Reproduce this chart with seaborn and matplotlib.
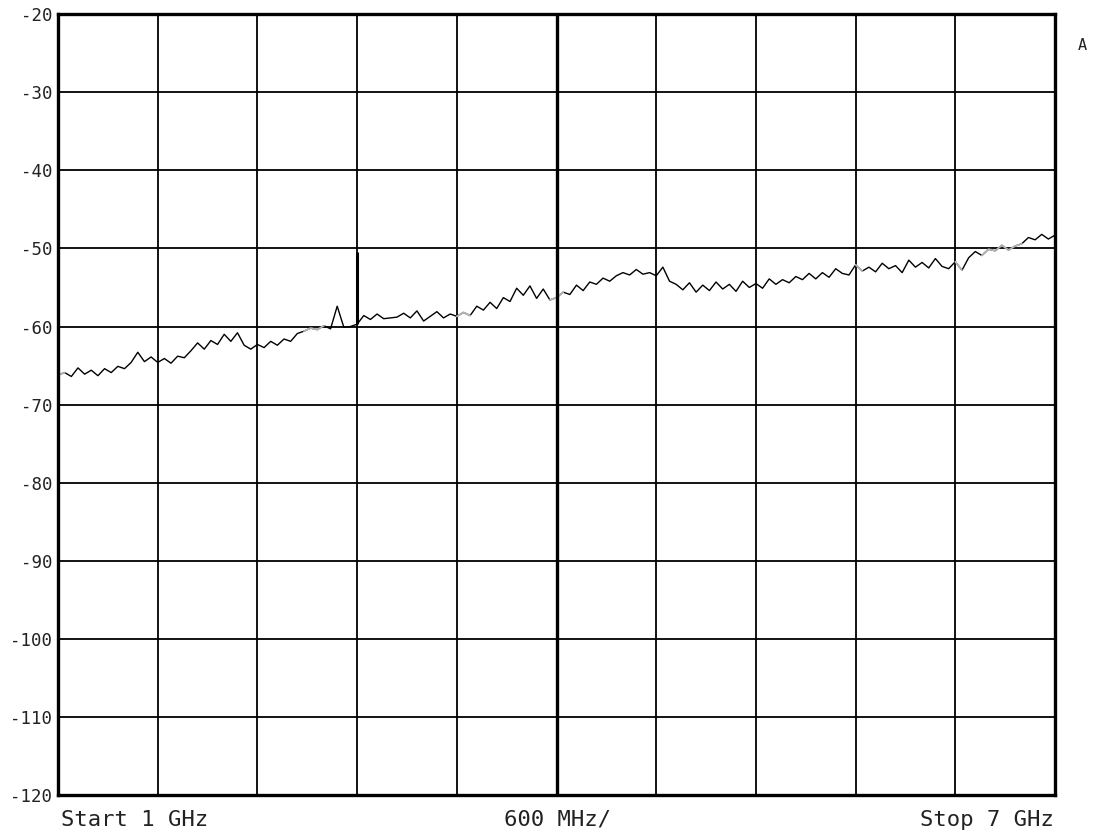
import numpy as np
import pandas as pd
import matplotlib
matplotlib.use("Agg")
import matplotlib.pyplot as plt
import seaborn as sns

sns.set_style("white")
plt.rcParams["font.family"] = ["DejaVu Sans Mono", "DejaVu Sans"]
plt.rcParams["axes.unicode_minus"] = False

# sweep 1 GHz .. 7 GHz, 151 points (40 MHz apart), level in dBm
freq_ghz = np.linspace(1.0, 7.0, 151)
level_db = [
    -66.2, -65.9, -66.4, -65.3, -66.1, -65.6, -66.3, -65.4, -65.9, -65.1,
    -65.4, -64.6, -63.3, -64.5, -63.9, -64.6, -64.1, -64.7, -63.8, -64.0,
    -63.1, -62.1, -62.9, -61.8, -62.3,
    -61.0, -61.9, -60.8, -62.4, -62.9, -62.3, -62.7, -61.9, -62.4, -61.6,
    -61.9, -60.9, -60.6, -60.2, -60.4, -59.9, -60.3, -57.4, -60.1, -60.0,
    -59.7, -58.6, -59.1, -58.4, -59.0,
    -58.9, -58.8, -58.3, -58.9, -58.0, -59.3, -58.7, -58.1, -58.9, -58.4,
    -58.7, -58.2, -58.6, -57.4, -57.9, -56.9, -57.7, -56.3, -56.8, -55.1,
    -56.0, -54.8, -56.4, -55.2, -56.6,
    -56.3, -55.6, -55.9, -54.7, -55.4, -54.3, -54.6, -53.8, -54.2, -53.5,
    -53.1, -53.4, -52.7, -53.3, -53.1, -53.5, -52.4, -54.2, -54.6, -55.3,
    -54.4, -55.6, -54.7, -55.4, -54.3,
    -55.2, -54.6, -55.5, -54.2, -55.0, -54.5, -55.1, -53.9, -54.6, -54.0,
    -54.4, -53.6, -54.0, -53.2, -53.9, -53.1, -53.7, -52.6, -53.2, -53.4,
    -52.1, -52.9, -52.4, -53.0, -51.9,
    -52.6, -52.2, -53.1, -51.5, -52.4, -51.8, -52.5, -51.3, -52.3, -52.6,
    -51.7, -52.8, -51.2, -50.4, -50.9, -50.1, -50.3, -49.6, -50.2, -49.7,
    -49.4, -48.6, -48.9, -48.2, -48.8, -48.3,
]

# narrow carrier at 2.8 GHz
spike_ghz = 2.80
spike_low, spike_high = -59.7, -50.4

# stretches where the printed trace came out faded
faded = [(1.00, 1.05), (2.48, 2.62), (3.38, 3.50), (3.96, 4.06),
         (4.58, 4.64), (5.78, 5.84), (6.38, 6.44), (6.56, 6.82)]

y_ticks = [-20, -30, -40, -50, -60, -70, -80, -90, -100, -110, -120]

df = pd.DataFrame({"freq": freq_ghz, "level": level_db})

fig = plt.figure(figsize=(10.95, 8.33), dpi=100)
ax = fig.add_axes([0.053, 0.0456, 0.9105, 0.9374])

sns.lineplot(data=df, x="freq", y="level", ax=ax, color="black",
             linewidth=1.0)
for a, b in faded:
    part = df[(df["freq"] >= a) & (df["freq"] <= b)]
    sns.lineplot(data=part, x="freq", y="level", ax=ax, color="#b5b5b5",
                 linewidth=1.3)
ax.vlines(spike_ghz, spike_low, spike_high, color="black", linewidth=2.2)

ax.set_xlim(1, 7)
ax.set_ylim(-120, -20)
ax.set_xticks(np.arange(1, 7.01, 0.6))
ax.set_yticks(y_ticks)
ax.set_xticklabels([])
ax.set_yticklabels([str(v) for v in y_ticks], fontsize=12.5, color="#222222")
ax.tick_params(axis="both", length=0, pad=4)
ax.grid(True, color="black", linewidth=1.3)
ax.axvline(4.0, color="black", linewidth=2.4)
for s in ax.spines.values():
    s.set_color("black")
    s.set_linewidth(2.4)
ax.set_xlabel("")
ax.set_ylabel("")

fig.text(0.056, 0.016, "Start 1 GHz", fontsize=16, ha="left", va="center",
         color="#222222")
fig.text(0.509, 0.016, "600 MHz/", fontsize=16, ha="center", va="center",
         color="#222222")
fig.text(0.962, 0.016, "Stop 7 GHz", fontsize=16, ha="right", va="center",
         color="#222222")
fig.text(0.988, 0.945, "A", fontsize=11, ha="center", va="center",
         color="#222222")

fig.savefig("out.png", dpi=100)
